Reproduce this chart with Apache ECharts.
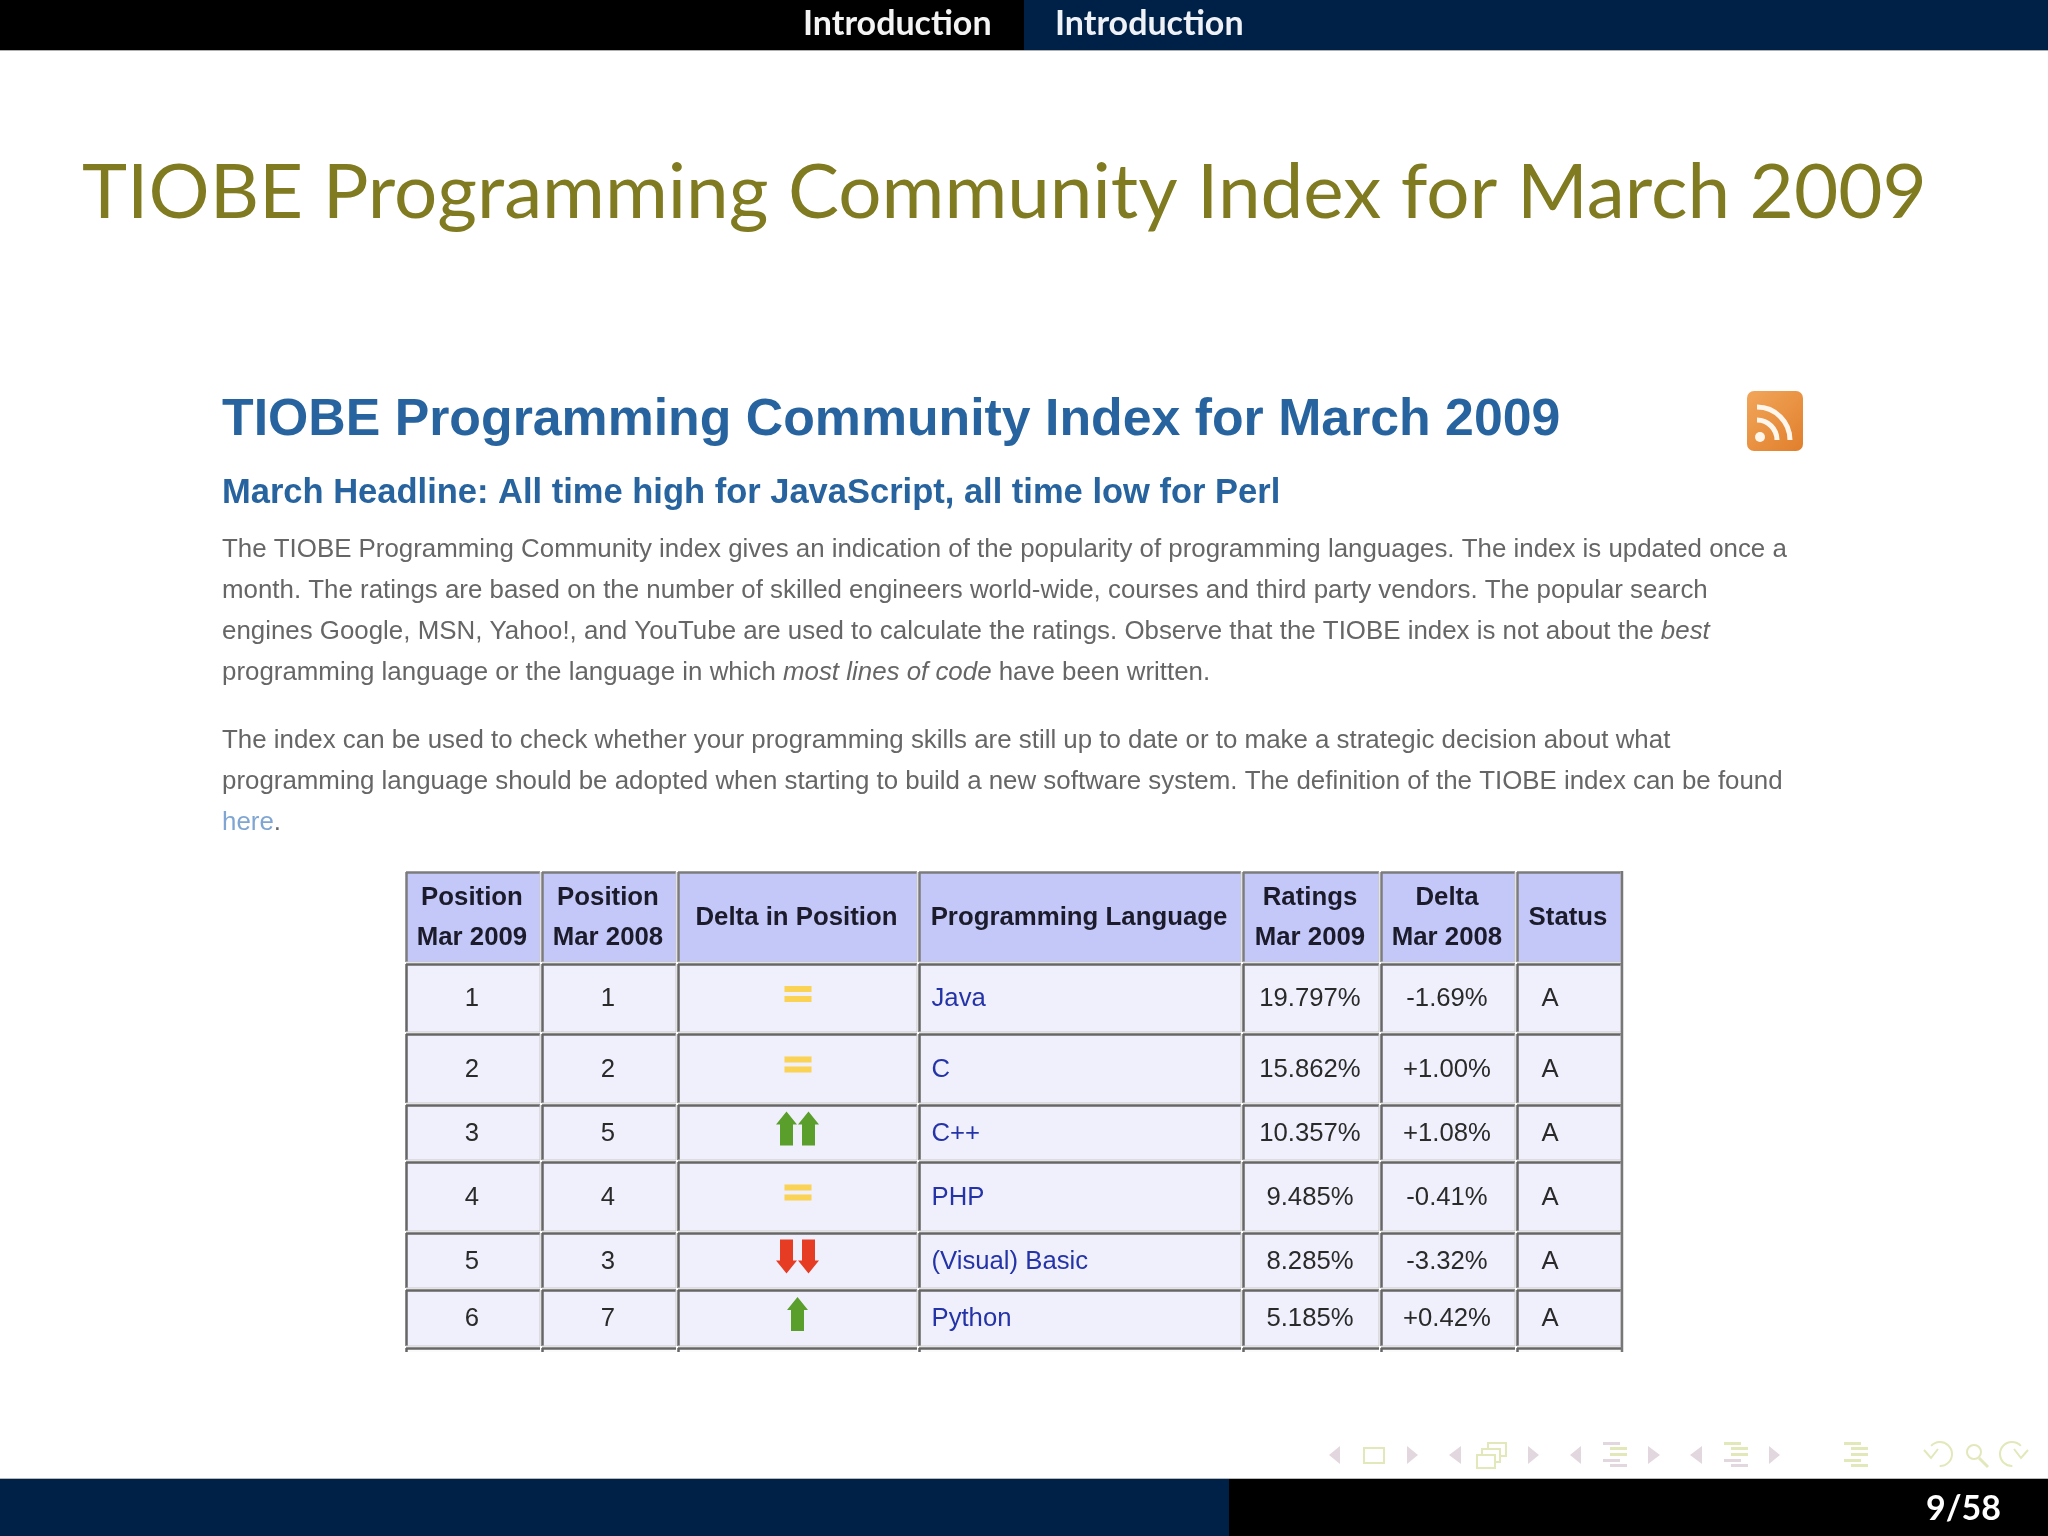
<!DOCTYPE html>
<html>
<head>
<meta charset="utf-8">
<style>html,body{margin:0;background:#fff}#main{width:2048px;height:1536px}</style>
<script src="https://cdn.jsdelivr.net/npm/echarts@6/dist/echarts.min.js"></script>
</head>
<body>
<div id="main"></div>
<script>
// table data
var headers = ['Position\nMar 2009', 'Position\nMar 2008', 'Delta in Position', 'Programming Language', 'Ratings\nMar 2009', 'Delta\nMar 2008', 'Status'];
var position2009 = [1, 2, 3, 4, 5, 6];
var position2008 = [1, 2, 5, 4, 3, 7];
var languages = ['Java', 'C', 'C++', 'PHP', '(Visual) Basic', 'Python'];
var ratings = [19.797, 15.862, 10.357, 9.485, 8.285, 5.185];
var deltaRatings = [-1.69, 1.00, 1.08, -0.41, -3.32, 0.42];
var statusList = ['A', 'A', 'A', 'A', 'A', 'A'];

// layout of the table, px from its top left corner
var colEdges = [0, 136, 272, 513, 837, 975, 1111, 1217];
var rowEdges = [0, 92, 162, 233, 290, 361, 418, 476, 481];

var SANS = '"Liberation Sans", Arial, sans-serif';
var SLIDE = 'Lato, "Noto Sans", sans-serif';
var NAVY = '#002147';

function cellText(col, row) {
  var i = row - 1;
  if (row === 0) return headers[col];
  if (row > position2009.length) return '';
  if (col === 0) return String(position2009[i]);
  if (col === 1) return String(position2008[i]);
  if (col === 3) return languages[i];
  if (col === 4) return ratings[i].toFixed(3) + '%';
  if (col === 5) return (deltaRatings[i] > 0 ? '+' : '') + deltaRatings[i].toFixed(2) + '%';
  if (col === 6) return statusList[i];
  return '';
}

function arrowPoints(cx, top, h, dir) {
  // dir 1 = up, -1 = down
  var y0 = dir > 0 ? top : top + h;
  var y1 = y0 + dir * 13;
  var y2 = y0 + dir * h;
  return [[cx, y0], [cx + 10.5, y1], [cx + 6.5, y1], [cx + 6.5, y2], [cx - 6.5, y2], [cx - 6.5, y1], [cx - 10.5, y1]];
}

function deltaIcon(row, cx, cy) {
  var a = position2008[row - 1], b = position2009[row - 1], diff = a - b, out = [];
  if (diff === 0) {
    out.push({ type: 'rect', shape: { x: cx - 13, y: cy - 8, width: 27, height: 6 }, style: { fill: '#fbd354' } });
    out.push({ type: 'rect', shape: { x: cx - 13, y: cy + 2, width: 27, height: 6 }, style: { fill: '#fbd354' } });
    return out;
  }
  var color = diff > 0 ? '#5a9e2c' : '#e63c24';
  var dir = diff > 0 ? 1 : -1;
  var offs = Math.abs(diff) > 1 ? [-11, 11] : [0];
  offs.forEach(function (o) {
    out.push({ type: 'polygon', shape: { points: arrowPoints(cx + o, cy - 17, 34, dir) }, style: { fill: color } });
  });
  return out;
}

function renderCell(params, api) {
  var col = api.value(0), row = api.value(1);
  var p0 = api.coord([colEdges[col], rowEdges[row]]);
  var p1 = api.coord([colEdges[col + 1], rowEdges[row + 1]]);
  var x0 = p0[0], y0 = p0[1], x1 = p1[0], y1 = p1[1];
  var header = row === 0;
  var stub = row === rowEdges.length - 2;
  var fill = header ? '#c4c8f8' : '#f0f0fc';
  var dark = header ? '#7c7c7c' : '#666666';
  var children = [
    { type: 'rect', shape: { x: x0 + 1, y: y0 + 1, width: x1 - x0 - 2, height: y1 - y0 - (stub ? 1 : 2) }, style: { fill: stub ? '#fafafa' : fill } },
    { type: 'line', shape: { x1: x0 + 1, y1: y0 + 1.5, x2: x1 - 1, y2: y0 + 1.5 }, style: { stroke: dark, lineWidth: 2.5 } },
    { type: 'line', shape: { x1: x0 + 1.5, y1: y0 + 1, x2: x0 + 1.5, y2: y1 - (stub ? 0 : 1) }, style: { stroke: dark, lineWidth: 2.5 } }
  ];
  if (!stub) {
    children.push({ type: 'line', shape: { x1: x0 + 1, y1: y1 - 1, x2: x1 - 1, y2: y1 - 1 }, style: { stroke: '#c8c8c8', lineWidth: 1 } });
    children.push({ type: 'line', shape: { x1: x1 - 1, y1: y0 + 1, x2: x1 - 1, y2: y1 - 1 }, style: { stroke: '#c8c8c8', lineWidth: 1 } });
  }
  if (col === colEdges.length - 2) {
    // outer table edge on the right
    children.push({ type: 'line', shape: { x1: x1, y1: y0, x2: x1, y2: y1 }, style: { stroke: '#777777', lineWidth: 2.5 } });
  }
  var cx = (x0 + x1) / 2, cy = (y0 + y1) / 2;
  if (!header && col === 2 && row <= position2009.length) {
    children = children.concat(deltaIcon(row, cx, cy - 4));
  }
  var txt = cellText(col, row);
  if (txt) {
    var left = !header && (col === 3 || col === 6);
    children.push({
      type: 'text',
      x: left ? x0 + (col === 3 ? 13.5 : 25.5) : cx - 1,
      y: cy + 1,
      style: {
        text: txt,
        fill: header ? '#1b1b2b' : (col === 3 ? '#2433a8' : '#2a2a2a'),
        fontSize: header ? 25.8 : 25.7,
        fontFamily: SANS,
        fontWeight: header ? 'bold' : 'normal',
        lineHeight: 40,
        textAlign: left ? 'left' : 'center',
        textVerticalAlign: 'middle'
      }
    });
  }
  return { type: 'group', children: children };
}

var cells = [];
for (var r = 0; r < rowEdges.length - 1; r++) {
  for (var c = 0; c < colEdges.length - 1; c++) cells.push([c, r]);
}

// slide chrome -------------------------------------------------------------
var graphics = [];
function rect(x, y, w, h, fill) {
  graphics.push({ type: 'rect', shape: { x: x, y: y, width: w, height: h }, style: { fill: fill } });
}
function text(x, y, str, o) {
  graphics.push({
    type: 'text', x: x, y: y,
    style: Object.assign({ text: str, textVerticalAlign: 'middle', textAlign: 'left' }, o)
  });
}
function tri(x0, x1, cy, left, fill) {
  var tip = left ? x0 : x1, back = left ? x1 : x0;
  graphics.push({ type: 'polygon', shape: { points: [[tip, cy], [back, cy - 9], [back, cy + 9]] }, style: { fill: fill } });
}
function stackLines(x, colors) {
  var ys = [1442, 1447, 1453, 1459, 1464], insets = [0, 7, 7, 0, 7];
  colors.forEach(function (col, i) {
    rect(x + insets[i], ys[i], 17, 3, col);
  });
}

rect(0, 0, 1024, 50, '#000000');
rect(1024, 0, 1024, 50, NAVY);
rect(0, 50, 2048, 1, '#b0b0b0');
rect(0, 1479, 1229, 57, NAVY);
rect(1229, 1479, 819, 57, '#000000');
rect(0, 1478, 2048, 1, '#b8b8b8');

text(803, 24, 'Introduction', { fill: '#f4f4f4', fontSize: 34, fontFamily: SLIDE, fontWeight: 'bold' });
text(1055, 24, 'Introduction', { fill: '#eef2f6', fontSize: 34, fontFamily: SLIDE, fontWeight: 'bold' });
text(1926, 1509, '9/58', { fill: '#ffffff', fontSize: 34, fontFamily: SLIDE, fontWeight: 'bold' });

text(82, 193, 'TIOBE Programming Community Index for March 2009', { fill: '#807a20', fontSize: 76.4, fontFamily: SLIDE });

// screenshot header and paragraphs
text(222, 421, 'TIOBE Programming Community Index for March 2009', { fill: '#27649f', fontSize: 51.8, fontFamily: SANS, fontWeight: 'bold' });
text(222, 493, 'March Headline: All time high for JavaScript, all time low for Perl', { fill: '#27649f', fontSize: 34.5, fontFamily: SANS, fontWeight: 'bold' });

var paragraphLines = [
  ['The TIOBE Programming Community index gives an indication of the popularity of programming languages. The index is updated once a', 550],
  ['month. The ratings are based on the number of skilled engineers world-wide, courses and third party vendors. The popular search', 591],
  ['engines Google, MSN, Yahoo!, and YouTube are used to calculate the ratings. Observe that the TIOBE index is not about the {i|best}', 632],
  ['programming language or the language in which {i|most lines of code} have been written.', 673],
  ['The index can be used to check whether your programming skills are still up to date or to make a strategic decision about what', 741],
  ['programming language should be adopted when starting to build a new software system. The definition of the TIOBE index can be found', 782],
  ['{a|here}.', 823]
];
var BODY_SIZE = 25.89;
paragraphLines.forEach(function (l) {
  text(222, l[1], l[0], {
    fill: '#666666', fontSize: BODY_SIZE, fontFamily: SANS,
    rich: {
      i: { fontStyle: 'italic', fill: '#666666', fontSize: BODY_SIZE, fontFamily: SANS },
      a: { fill: '#7fa6d3', fontSize: BODY_SIZE, fontFamily: SANS }
    }
  });
});

// rss icon
graphics.push({
  type: 'rect', shape: { x: 1747, y: 391, width: 56, height: 60, r: 7 },
  style: { fill: new echarts.graphic.LinearGradient(0, 0, 1, 1, [{ offset: 0, color: '#f2a65a' }, { offset: 1, color: '#e07f2c' }]) }
});
graphics.push({ type: 'circle', shape: { cx: 1760, cy: 437, r: 5 }, style: { fill: '#fff6ec' } });
graphics.push({ type: 'arc', shape: { cx: 1757, cy: 440, r: 20, startAngle: -Math.PI / 2, endAngle: 0 }, style: { stroke: '#fff6ec', fill: null, lineWidth: 5 } });
graphics.push({ type: 'arc', shape: { cx: 1757, cy: 440, r: 33, startAngle: -Math.PI / 2, endAngle: 0 }, style: { stroke: '#fff6ec', fill: null, lineWidth: 5 } });

// beamer navigation symbols
var PINK = '#e2d7de', LIME = '#e3e8bb';
tri(1329, 1340, 1455, true, PINK);
graphics.push({ type: 'rect', shape: { x: 1364, y: 1448, width: 20, height: 15 }, style: { stroke: LIME, fill: null, lineWidth: 2 } });
tri(1407, 1418, 1455, false, PINK);
tri(1449, 1461, 1455, true, PINK);
[[1488, 1443], [1482, 1449], [1477, 1455]].forEach(function (p) {
  graphics.push({ type: 'rect', shape: { x: p[0], y: p[1], width: 18, height: 13 }, style: { stroke: LIME, fill: '#fff', lineWidth: 2 } });
});
tri(1528, 1539, 1455, false, PINK);
tri(1570, 1581, 1455, true, PINK);
stackLines(1603, [PINK, LIME, LIME, PINK, PINK]);
tri(1648, 1660, 1455, false, PINK);
tri(1690, 1702, 1455, true, PINK);
stackLines(1724, [LIME, LIME, LIME, PINK, PINK]);
tri(1769, 1780, 1455, false, PINK);
stackLines(1844, [LIME, LIME, LIME, LIME, LIME]);
graphics.push({ type: 'arc', shape: { cx: 1940, cy: 1454, r: 12, startAngle: -2.4, endAngle: 1.6 }, style: { stroke: LIME, fill: null, lineWidth: 2 } });
graphics.push({ type: 'polyline', shape: { points: [[1924, 1450], [1931, 1458], [1938, 1449]] }, style: { stroke: LIME, fill: null, lineWidth: 2 } });
graphics.push({ type: 'circle', shape: { cx: 1974, cy: 1452, r: 7 }, style: { stroke: LIME, fill: null, lineWidth: 2 } });
graphics.push({ type: 'line', shape: { x1: 1979, y1: 1458, x2: 1988, y2: 1467 }, style: { stroke: LIME, lineWidth: 3 } });
graphics.push({ type: 'arc', shape: { cx: 2012, cy: 1454, r: 12, startAngle: 1.54, endAngle: 5.54 }, style: { stroke: LIME, fill: null, lineWidth: 2 } });
graphics.push({ type: 'polyline', shape: { points: [[2028, 1450], [2021, 1458], [2014, 1449]] }, style: { stroke: LIME, fill: null, lineWidth: 2 } });

var chart = echarts.init(document.getElementById('main'));
chart.setOption({
  animation: false,
  backgroundColor: '#ffffff',
  graphic: graphics,
  grid: { left: 405, top: 871, width: 1217, height: 481 },
  xAxis: { type: 'value', min: 0, max: 1217, show: false },
  yAxis: { type: 'value', min: 0, max: 481, inverse: true, show: false },
  series: [{
    type: 'custom',
    silent: true,
    clip: false,
    renderItem: renderCell,
    encode: { x: 0, y: 1 },
    data: cells
  }]
});
</script>
</body>
</html>
